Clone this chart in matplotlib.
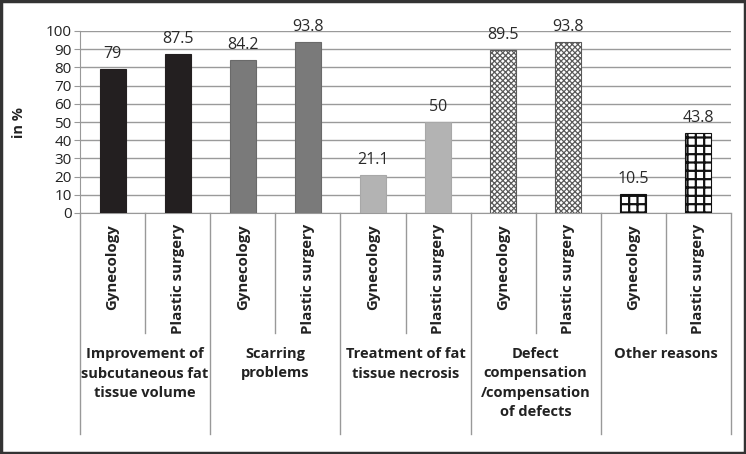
import matplotlib.pyplot as plt
from matplotlib.patches import Rectangle
from matplotlib.transforms import blended_transform_factory

plt.rcParams['font.family'] = ['Open Sans', 'DejaVu Sans']
plt.rcParams['hatch.linewidth'] = 1.0

# data
groups = ['Improvement of\nsubcutaneous fat\ntissue volume', 'Scarring\nproblems',
          'Treatment of fat\ntissue necrosis', 'Defect\ncompensation\n/compensation\nof defects',
          'Other reasons']
subs = ['Gynecology', 'Plastic surgery']
values = [79, 87.5, 84.2, 93.8, 21.1, 50, 89.5, 93.8, 10.5, 43.8]
labels = ['79', '87.5', '84.2', '93.8', '21.1', '50', '89.5', '93.8', '10.5', '43.8']

fig = plt.figure(figsize=(7.46, 4.54), dpi=100)
ax = fig.add_axes([80/746, (454-213)/454, 651/746, 182/454])

styles = [
    dict(color='#231f20', edgecolor='#231f20'),
    dict(color='#7a7a7a', edgecolor='#6a6a6a'),
    dict(color='#b3b3b3', edgecolor='#a8a8a8'),
    dict(color='white', edgecolor='#5a5a5a', hatch='xxxxxx'),
    dict(color='white', edgecolor='#111111', hatch='++'),
]
hatch_lw = [1.0, 1.0, 1.0, 0.9, 1.6]

for i, v in enumerate(values):
    st = styles[i // 2]
    with plt.rc_context({'hatch.linewidth': hatch_lw[i // 2]}):
        ax.bar(i, v, width=0.4, linewidth=0.8, zorder=3, **st)
    ax.annotate(labels[i], (i, v), xytext=(0, 5), textcoords='offset points',
                ha='center', va='bottom', fontsize=11.5, color='#2a2a2a')

ax.set_xlim(-0.5, len(values) - 0.5)
ax.set_ylim(0, 100)
ax.set_yticks(range(0, 101, 10))
ax.tick_params(axis='y', labelsize=11, length=4, color='#999999', pad=2, labelcolor='#222222')
ax.set_xticks([])
ax.yaxis.grid(True, color='#9a9a9a', linewidth=1)
ax.set_axisbelow(True)
for s in ['top', 'right']:
    ax.spines[s].set_visible(False)
ax.spines['left'].set_color('#999999')
ax.spines['bottom'].set_color('#999999')
ax.set_ylabel('in %', fontsize=10.5, fontweight='bold', labelpad=14, color='#222222')

# multi-level category axis
tr = blended_transform_factory(ax.transData, ax.transAxes)
h = 182
for i in range(len(values)):
    ax.text(i, -11/h, subs[i % 2], rotation=90, ha='center', va='top',
            transform=tr, fontsize=10.8, fontweight='bold', color='#222222')
for k in range(len(values) + 1):
    bottom = -120/h if k % 2 else -221/h
    ax.plot([k - 0.5, k - 0.5], [0, bottom], transform=tr, color='#999999',
            linewidth=1, clip_on=False)
for g, name in enumerate(groups):
    ax.text(2*g + 0.5, -134/h, name, ha='center', va='top', transform=tr,
            fontsize=10.5, fontweight='bold', color='#222222', linespacing=1.5)

fig.patches.append(Rectangle((0.002, 0.003), 0.996, 0.994, transform=fig.transFigure,
                             fill=False, edgecolor='#333333', linewidth=2.5))

fig.savefig('out.png', dpi=100)
